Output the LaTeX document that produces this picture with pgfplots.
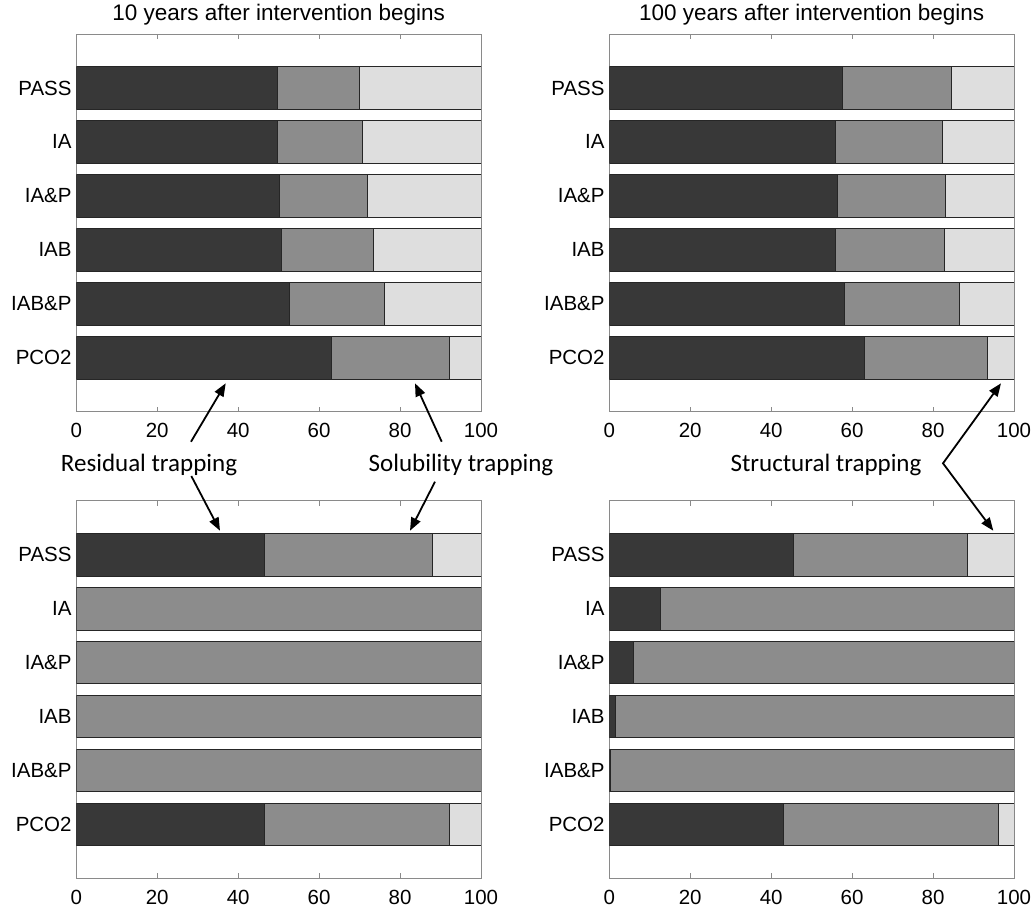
\documentclass[border=0pt]{standalone}
\usepackage{fontspec}
\setmainfont{Liberation Sans}
\newfontfamily\calibri{Carlito}
\usepackage{pgfplots}
\pgfplotsset{compat=1.18}
\usepackage{pgfplotstable}
\usetikzlibrary{arrows.meta}

\definecolor{cdark}{HTML}{383838}
\definecolor{cmid}{HTML}{8C8C8C}
\definecolor{clight}{HTML}{DEDEDE}
\definecolor{cframe}{HTML}{8A8A8A}

% columns: y residual solubility structural
\pgfplotstableread{
y r s t
1 49.8 20.1 30.1
2 49.6 21.1 29.3
3 50.3 21.7 28.0
4 50.6 22.8 26.6
5 52.6 23.6 23.8
6 63.1 29.0 7.9
}\tabTL
\pgfplotstableread{
y r s t
1 57.6 26.9 15.5
2 55.9 26.3 17.8
3 56.4 26.7 16.9
4 55.8 27.1 17.1
5 58.1 28.5 13.4
6 63.1 30.3 6.6
}\tabTR
\pgfplotstableread{
y r s t
1 46.6 41.3 12.1
2 0 100 0
3 0 100 0
4 0 100 0
5 0 100 0
6 46.6 45.5 7.9
}\tabBL
\pgfplotstableread{
y r s t
1 45.4 43.0 11.6
2 12.7 87.3 0
3 6.0 94.0 0
4 1.4 98.6 0
5 0.3 99.7 0
6 43.1 53.0 3.9
}\tabBR

\pgfplotsset{
  panel/.style={
    scale only axis, width=404.7bp, height=377.7bp,
    xbar stacked, bar width=0.79,
    xmin=0, xmax=100, ymin=0, ymax=7, y dir=reverse,
    xtick={0,20,...,100}, ytick={1,...,6},
    yticklabels={PASS,IA,IA\&P,IAB,IAB\&P,PCO2},
    tick align=inside, xtick pos=both, xticklabel pos=lower,
    major tick length=5bp,
    ytick style={draw=none},
    xtick style={cframe, line width=0.8bp},
    axis line style={cframe, line width=1bp},
    /pgf/number format/assume math mode=true,
    tick label style={font=\fontsize{20.5bp}{24bp}\selectfont},
    xticklabel style={yshift=-8bp},
    yticklabel style={xshift=-1.2bp},
    title style={font=\fontsize{22.5bp}{26bp}\selectfont, at={(0.5,1)}, anchor=base, yshift=7.3bp},
  },
  ser/.style={draw=black!85, line width=0.8bp},
}

\begin{document}
\begin{tikzpicture}
\useasboundingbox (0,0) rectangle (1035bp,-911bp);

\begin{axis}[panel, at={(76.3bp,-34bp)}, anchor=north west,
  title={10 years after intervention begins}]
  \addplot[ser, fill=cdark] table[x=r,y=y]{\tabTL};
  \addplot[ser, fill=cmid] table[x=s,y=y]{\tabTL};
  \addplot[ser, fill=clight] table[x=t,y=y]{\tabTL};
\end{axis}

\begin{axis}[panel, at={(609.3bp,-34bp)}, anchor=north west,
  title={100 years after intervention begins}]
  \addplot[ser, fill=cdark] table[x=r,y=y]{\tabTR};
  \addplot[ser, fill=cmid] table[x=s,y=y]{\tabTR};
  \addplot[ser, fill=clight] table[x=t,y=y]{\tabTR};
\end{axis}

\begin{axis}[panel, at={(76.3bp,-500.7bp)}, anchor=north west]
  \addplot[ser, fill=cdark] table[x=r,y=y]{\tabBL};
  \addplot[ser, fill=cmid] table[x=s,y=y]{\tabBL};
  \addplot[ser, fill=clight] table[x=t,y=y]{\tabBL};
\end{axis}

\begin{axis}[panel, at={(609.3bp,-500.7bp)}, anchor=north west]
  \addplot[ser, fill=cdark] table[x=r,y=y]{\tabBR};
  \addplot[ser, fill=cmid] table[x=s,y=y]{\tabBR};
  \addplot[ser, fill=clight] table[x=t,y=y]{\tabBR};
\end{axis}

% annotations
\begin{scope}[font=\calibri\fontsize{25bp}{29bp}\selectfont]
  \node[anchor=base, inner sep=0] at (149bp,-471.5bp) {Residual trapping};
  \node[anchor=base, inner sep=0] at (461bp,-471.5bp) {Solubility trapping};
  \node[anchor=base, inner sep=0] at (826bp,-471.5bp) {Structural trapping};
\end{scope}
\begin{scope}[line width=1.8bp, -{Triangle[length=13bp,width=10bp]}]
  \draw (191bp,-441.7bp) -- (225.7bp,-383.3bp);
  \draw (441.7bp,-441.7bp) -- (415bp,-383.3bp);
  \draw (191.3bp,-476bp) -- (220bp,-530.7bp);
  \draw (435bp,-481.7bp) -- (410bp,-530.7bp);
  \draw[{Triangle[length=13bp,width=10bp]}-{Triangle[length=13bp,width=10bp]}]
    (1001bp,-383.3bp) -- (943bp,-463.3bp) -- (993.3bp,-530.7bp);
\end{scope}
\end{tikzpicture}
\end{document}
